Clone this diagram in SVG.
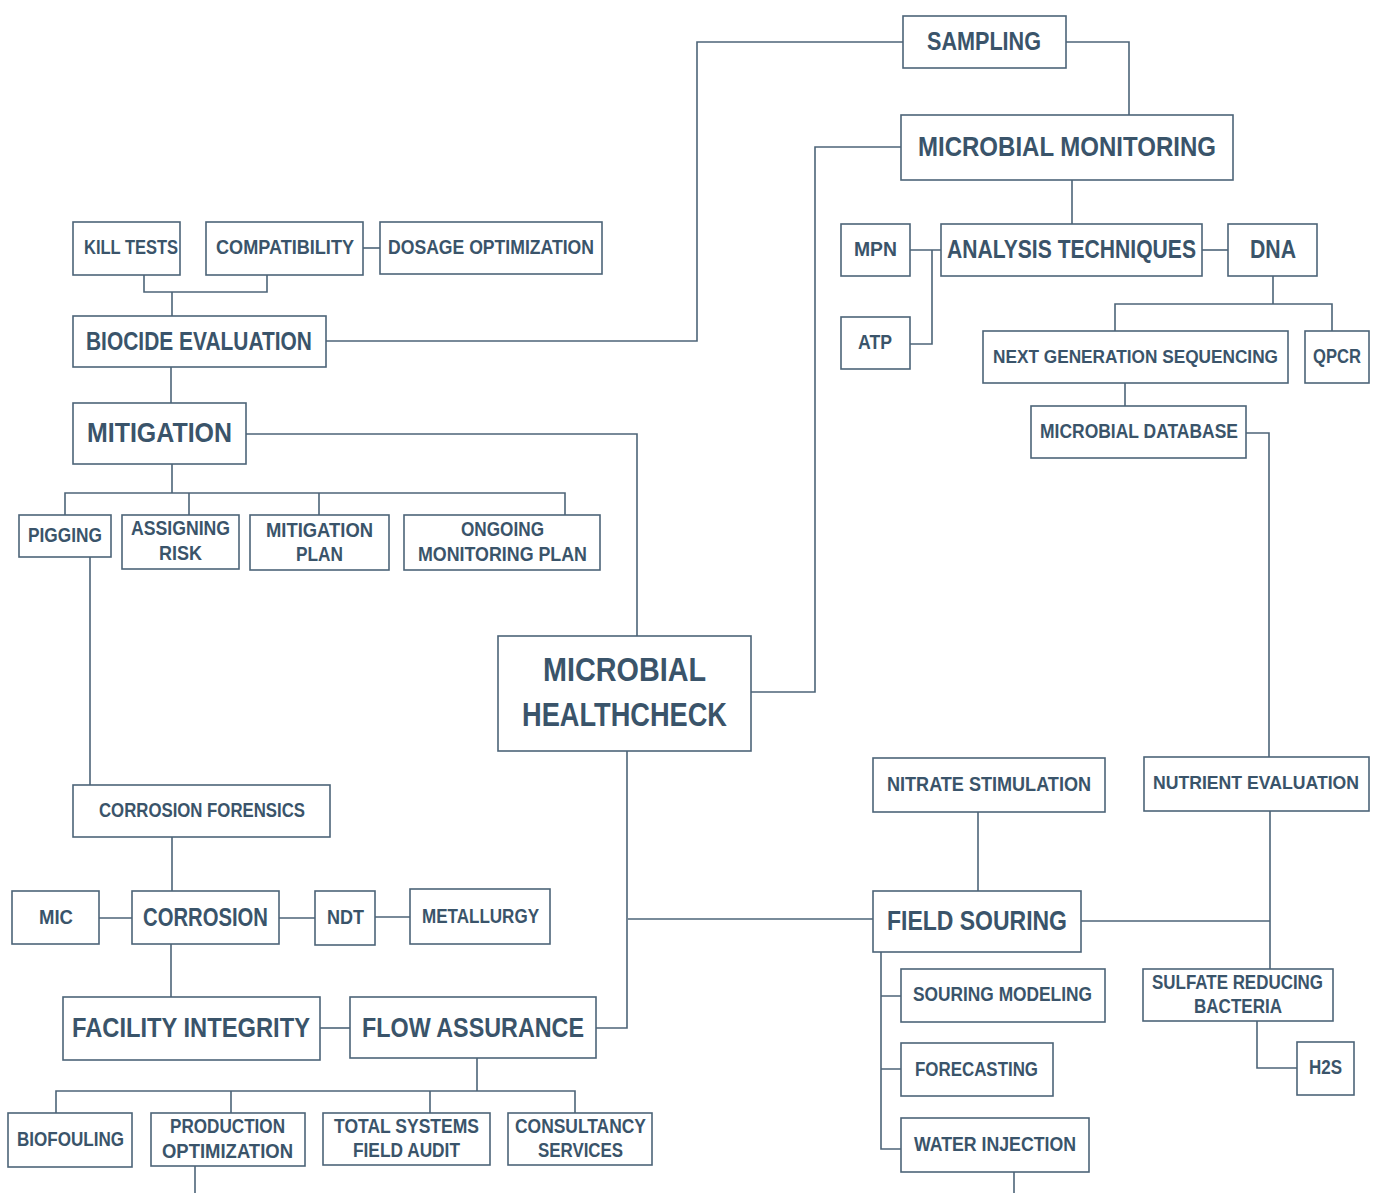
<svg xmlns="http://www.w3.org/2000/svg" width="1377" height="1193" viewBox="0 0 1377 1193">
<style>
.b{fill:#fff;stroke:#4d6478;stroke-width:1.6}
.c{fill:none;stroke:#4d6478;stroke-width:1.6}
text{font-family:"Liberation Sans",Arial,sans-serif;font-weight:bold;fill:#3a546a}
.s{font-size:20px}
.t{font-size:18.5px}
.m{font-size:25px}
.l{font-size:28.5px}
.x{font-size:34px}
</style>
<rect width="1377" height="1193" style="fill:#fff;stroke:none"/>
<g id="connectors">
<path class="c" d="M1066 42H1129V115"/>
<path class="c" d="M903 42H697V341H326"/>
<path class="c" d="M901 147H815V692H751"/>
<path class="c" d="M1072 180V224"/>
<path class="c" d="M910 250H941M932 250V344H910"/>
<path class="c" d="M1202 250H1228"/>
<path class="c" d="M1273 276V304M1115 331V304H1332V331"/>
<path class="c" d="M1125 383V406"/>
<path class="c" d="M1246 433H1269V757"/>
<path class="c" d="M1270 811V969M1081 921H1270"/>
<path class="c" d="M1257 1021V1068H1297"/>
<path class="c" d="M978 812V891"/>
<path class="c" d="M873 919H628"/>
<path class="c" d="M881 952V1149H901M881 996H901M881 1069H901"/>
<path class="c" d="M1014 1172V1193"/>
<path class="c" d="M637 636V434H246"/>
<path class="c" d="M627 751V1028H596"/>
<path class="c" d="M363 248H380"/>
<path class="c" d="M144 275V292H267V275M172 292V316"/>
<path class="c" d="M171 367V403"/>
<path class="c" d="M172 464V493M65 515V493H565V515M189 493V515M319 493V515"/>
<path class="c" d="M90 557V785"/>
<path class="c" d="M172 837V891"/>
<path class="c" d="M99 918H132M279 918H315M375 917H410"/>
<path class="c" d="M171 944V997"/>
<path class="c" d="M320 1028H350"/>
<path class="c" d="M477 1058V1091M56 1113V1091H575V1113M231 1091V1113M430 1091V1113"/>
<path class="c" d="M195 1166V1193"/>
</g>
<g id="sampling"><rect class="b" x="903" y="16" width="163" height="52"/><text class="m" x="927" y="50" textLength="114" lengthAdjust="spacingAndGlyphs">SAMPLING</text></g>
<g id="microbial-monitoring"><rect class="b" x="901" y="115" width="332" height="65"/><text class="l" x="918" y="156" textLength="298" lengthAdjust="spacingAndGlyphs">MICROBIAL MONITORING</text></g>
<g id="analysis-techniques"><rect class="b" x="941" y="224" width="261" height="52"/><text class="m" x="947" y="258" textLength="249" lengthAdjust="spacingAndGlyphs">ANALYSIS TECHNIQUES</text></g>
<g id="mpn"><rect class="b" x="841" y="224" width="69" height="52"/><text class="s" x="854" y="256" textLength="43" lengthAdjust="spacingAndGlyphs">MPN</text></g>
<g id="atp"><rect class="b" x="841" y="317" width="69" height="52"/><text class="s" x="858" y="349" textLength="34" lengthAdjust="spacingAndGlyphs">ATP</text></g>
<g id="dna"><rect class="b" x="1228" y="224" width="89" height="52"/><text class="m" x="1250" y="258" textLength="46" lengthAdjust="spacingAndGlyphs">DNA</text></g>
<g id="ngs"><rect class="b" x="983" y="331" width="305" height="52"/><text class="t" x="993" y="363" textLength="285" lengthAdjust="spacingAndGlyphs">NEXT GENERATION SEQUENCING</text></g>
<g id="qpcr"><rect class="b" x="1305" y="331" width="64" height="52"/><text class="s" x="1313" y="363" textLength="48" lengthAdjust="spacingAndGlyphs">QPCR</text></g>
<g id="microbial-database"><rect class="b" x="1031" y="406" width="215" height="52"/><text class="s" x="1040" y="438" textLength="198" lengthAdjust="spacingAndGlyphs">MICROBIAL DATABASE</text></g>
<g id="nutrient-evaluation"><rect class="b" x="1144" y="757" width="225" height="54"/><text class="t" x="1153" y="789" textLength="206" lengthAdjust="spacingAndGlyphs">NUTRIENT EVALUATION</text></g>
<g id="srb"><rect class="b" x="1143" y="969" width="190" height="52"/><text class="s" x="1152" y="989" textLength="171" lengthAdjust="spacingAndGlyphs">SULFATE REDUCING</text><text class="s" x="1194" y="1013" textLength="88" lengthAdjust="spacingAndGlyphs">BACTERIA</text></g>
<g id="h2s"><rect class="b" x="1297" y="1042" width="57" height="53"/><text class="s" x="1309" y="1074" textLength="33" lengthAdjust="spacingAndGlyphs">H2S</text></g>
<g id="nitrate-stimulation"><rect class="b" x="873" y="758" width="232" height="54"/><text class="s" x="887" y="791" textLength="204" lengthAdjust="spacingAndGlyphs">NITRATE STIMULATION</text></g>
<g id="field-souring"><rect class="b" x="873" y="891" width="208" height="61"/><text class="l" x="887" y="930" textLength="180" lengthAdjust="spacingAndGlyphs">FIELD SOURING</text></g>
<g id="souring-modeling"><rect class="b" x="901" y="969" width="204" height="53"/><text class="s" x="913" y="1001" textLength="179" lengthAdjust="spacingAndGlyphs">SOURING MODELING</text></g>
<g id="forecasting"><rect class="b" x="901" y="1043" width="152" height="53"/><text class="s" x="915" y="1076" textLength="123" lengthAdjust="spacingAndGlyphs">FORECASTING</text></g>
<g id="water-injection"><rect class="b" x="901" y="1118" width="188" height="54"/><text class="s" x="914" y="1151" textLength="162" lengthAdjust="spacingAndGlyphs">WATER INJECTION</text></g>
<g id="microbial-healthcheck"><rect class="b" x="498" y="636" width="253" height="115"/><text class="x" x="543" y="681" textLength="163" lengthAdjust="spacingAndGlyphs">MICROBIAL</text><text class="x" x="522" y="726" textLength="205" lengthAdjust="spacingAndGlyphs">HEALTHCHECK</text></g>
<g id="kill-tests"><rect class="b" x="73" y="222" width="107" height="53"/><text class="s" x="84" y="254" textLength="94" lengthAdjust="spacingAndGlyphs">KILL TESTS</text></g>
<g id="compatibility"><rect class="b" x="206" y="222" width="157" height="53"/><text class="s" x="216" y="254" textLength="138" lengthAdjust="spacingAndGlyphs">COMPATIBILITY</text></g>
<g id="dosage-optimization"><rect class="b" x="380" y="222" width="222" height="52"/><text class="s" x="388" y="254" textLength="206" lengthAdjust="spacingAndGlyphs">DOSAGE OPTIMIZATION</text></g>
<g id="biocide-evaluation"><rect class="b" x="73" y="316" width="253" height="51"/><text class="m" x="86" y="350" textLength="226" lengthAdjust="spacingAndGlyphs">BIOCIDE EVALUATION</text></g>
<g id="mitigation"><rect class="b" x="73" y="403" width="173" height="61"/><text class="l" x="87" y="442" textLength="145" lengthAdjust="spacingAndGlyphs">MITIGATION</text></g>
<g id="pigging"><rect class="b" x="19" y="515" width="92" height="42"/><text class="s" x="28" y="542" textLength="74" lengthAdjust="spacingAndGlyphs">PIGGING</text></g>
<g id="assigning-risk"><rect class="b" x="122" y="515" width="117" height="54"/><text class="s" x="131" y="535" textLength="99" lengthAdjust="spacingAndGlyphs">ASSIGNING</text><text class="s" x="159" y="560" textLength="43" lengthAdjust="spacingAndGlyphs">RISK</text></g>
<g id="mitigation-plan"><rect class="b" x="250" y="515" width="139" height="55"/><text class="s" x="266" y="537" textLength="107" lengthAdjust="spacingAndGlyphs">MITIGATION</text><text class="s" x="296" y="561" textLength="47" lengthAdjust="spacingAndGlyphs">PLAN</text></g>
<g id="ongoing-monitoring-plan"><rect class="b" x="404" y="515" width="196" height="55"/><text class="s" x="461" y="536" textLength="83" lengthAdjust="spacingAndGlyphs">ONGOING</text><text class="s" x="418" y="561" textLength="169" lengthAdjust="spacingAndGlyphs">MONITORING PLAN</text></g>
<g id="corrosion-forensics"><rect class="b" x="73" y="785" width="257" height="52"/><text class="s" x="99" y="817" textLength="206" lengthAdjust="spacingAndGlyphs">CORROSION FORENSICS</text></g>
<g id="mic"><rect class="b" x="12" y="891" width="87" height="53"/><text class="s" x="39" y="924" textLength="34" lengthAdjust="spacingAndGlyphs">MIC</text></g>
<g id="corrosion"><rect class="b" x="132" y="891" width="147" height="53"/><text class="m" x="143" y="926" textLength="125" lengthAdjust="spacingAndGlyphs">CORROSION</text></g>
<g id="ndt"><rect class="b" x="315" y="891" width="60" height="54"/><text class="s" x="327" y="924" textLength="37" lengthAdjust="spacingAndGlyphs">NDT</text></g>
<g id="metallurgy"><rect class="b" x="410" y="889" width="140" height="55"/><text class="s" x="422" y="923" textLength="117" lengthAdjust="spacingAndGlyphs">METALLURGY</text></g>
<g id="facility-integrity"><rect class="b" x="63" y="997" width="257" height="63"/><text class="l" x="72" y="1037" textLength="238" lengthAdjust="spacingAndGlyphs">FACILITY INTEGRITY</text></g>
<g id="flow-assurance"><rect class="b" x="350" y="997" width="246" height="61"/><text class="l" x="362" y="1037" textLength="222" lengthAdjust="spacingAndGlyphs">FLOW ASSURANCE</text></g>
<g id="biofouling"><rect class="b" x="8" y="1113" width="124" height="54"/><text class="s" x="17" y="1146" textLength="107" lengthAdjust="spacingAndGlyphs">BIOFOULING</text></g>
<g id="production-optimization"><rect class="b" x="151" y="1113" width="154" height="53"/><text class="s" x="170" y="1133" textLength="115" lengthAdjust="spacingAndGlyphs">PRODUCTION</text><text class="s" x="162" y="1158" textLength="131" lengthAdjust="spacingAndGlyphs">OPTIMIZATION</text></g>
<g id="total-systems-field-audit"><rect class="b" x="323" y="1113" width="167" height="52"/><text class="s" x="334" y="1133" textLength="145" lengthAdjust="spacingAndGlyphs">TOTAL SYSTEMS</text><text class="s" x="353" y="1157" textLength="107" lengthAdjust="spacingAndGlyphs">FIELD AUDIT</text></g>
<g id="consultancy-services"><rect class="b" x="508" y="1113" width="144" height="52"/><text class="s" x="515" y="1133" textLength="131" lengthAdjust="spacingAndGlyphs">CONSULTANCY</text><text class="s" x="538" y="1157" textLength="85" lengthAdjust="spacingAndGlyphs">SERVICES</text></g>
</svg>
